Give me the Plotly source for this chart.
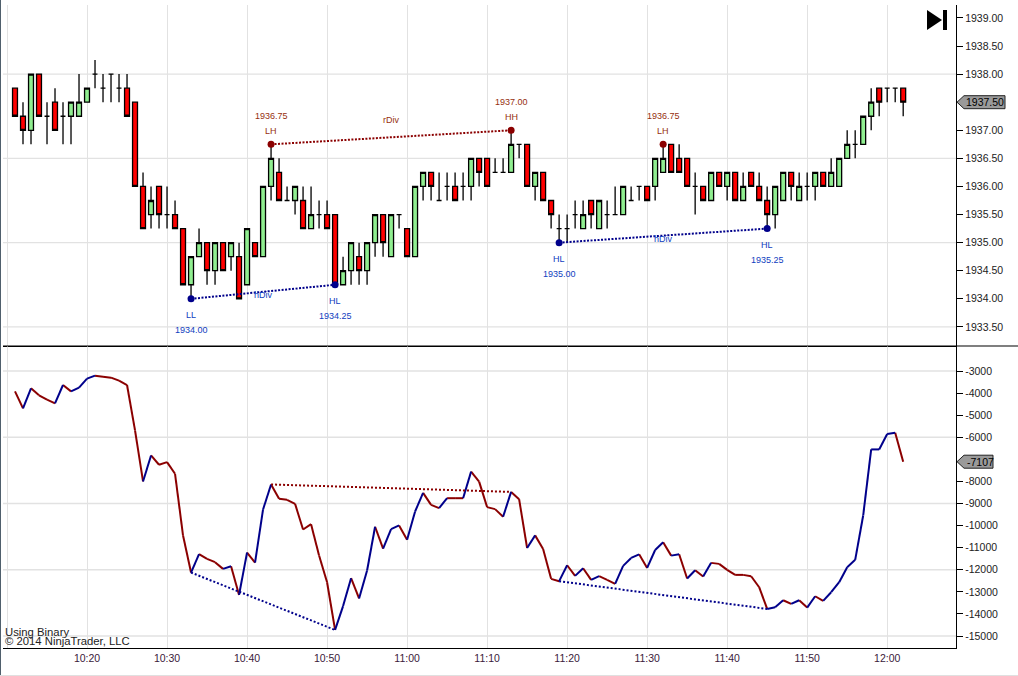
import plotly.graph_objects as go
from plotly.subplots import make_subplots
import pandas as pd

TIMES = pd.date_range("2014-06-10 10:11", "2014-06-10 12:02", freq="1min")

# (open, high, low, close) read bar by bar, price minus 1900
BARS = [
 (37.75,37.75,37.25,37.25),(37.25,37.5,36.75,37.0),(37.0,38.0,36.75,38.0),(38.0,38.0,37.25,37.25),
 (37.25,37.5,36.75,37.25),(37.5,37.75,37.0,37.0),(37.25,37.5,36.75,37.25),(37.25,37.5,36.75,37.5),
 (37.25,38.0,37.25,37.5),(37.5,37.75,37.5,37.75),(38.0,38.25,37.75,38.0),(37.75,38.0,37.5,37.75),
 (38.0,38.0,37.5,38.0),(37.75,38.0,37.5,37.75),(37.75,38.0,37.25,37.25),(37.5,37.5,36.0,36.0),
 (36.0,36.25,35.25,35.25),(35.5,36.0,35.25,35.75),(36.0,36.0,35.25,35.5),(35.5,36.0,35.25,35.5),
 (35.5,35.75,35.25,35.25),(35.25,35.25,34.25,34.25),(34.25,34.75,34.0,34.75),(34.75,35.25,34.75,35.0),
 (35.0,35.0,34.25,34.5),(34.5,35.0,34.25,35.0),(35.0,35.0,34.5,34.5),(34.75,35.0,34.5,35.0),
 (34.75,35.0,34.0,34.0),(34.25,35.25,34.25,35.25),(35.0,35.0,34.75,34.75),(34.75,36.0,34.75,36.0),
 (36.0,36.75,35.75,36.5),(36.25,36.5,35.75,35.75),(35.75,36.0,35.75,35.75),(35.75,36.0,35.5,36.0),
 (35.75,36.0,35.25,35.25),(35.25,36.0,35.25,35.5),(35.5,35.75,35.25,35.5),(35.5,35.75,35.25,35.25),
 (35.5,35.5,34.25,34.25),(34.25,34.75,34.25,34.5),(34.5,35.0,34.25,35.0),(34.75,35.0,34.25,34.5),
 (34.5,35.0,34.25,35.0),(35.0,35.5,34.75,35.5),(35.5,35.5,34.75,35.0),(34.75,35.5,34.75,35.5),
 (35.5,35.5,35.25,35.5),(35.25,35.25,34.75,34.75),(34.75,36.0,34.75,36.0),(36.0,36.25,35.75,36.25),
 (36.25,36.25,35.75,36.0),(35.75,36.25,35.75,35.75),(36.0,36.25,35.75,36.0),(36.0,36.25,35.75,35.75),
 (36.0,36.25,35.75,36.0),(36.0,36.5,35.75,36.5),(36.5,36.5,36.0,36.25),(36.5,36.5,36.0,36.0),
 (36.25,36.5,36.25,36.25),(36.25,36.5,36.25,36.25),(36.25,37.0,36.25,36.75),(36.75,36.75,36.5,36.75),
 (36.75,36.75,36.0,36.0),(36.0,36.25,35.75,36.25),(36.25,36.25,35.75,35.75),(35.75,35.75,35.25,35.5),
 (35.25,35.5,35.0,35.25),(35.25,35.5,35.0,35.25),(35.5,35.75,35.25,35.5),(35.25,35.75,35.25,35.5),
 (35.75,35.75,35.25,35.5),(35.25,35.75,35.25,35.75),(35.5,35.75,35.25,35.5),(35.5,36.0,35.5,35.5),
 (35.5,36.0,35.5,36.0),(35.75,36.0,35.75,35.75),(36.0,36.0,35.75,36.0),(36.0,36.0,35.75,35.75),
 (36.0,36.5,35.75,36.5),(36.25,36.75,36.25,36.5),(36.75,36.75,36.25,36.25),(36.5,36.75,36.25,36.25),
 (36.5,36.5,36.0,36.0),(36.0,36.25,35.5,36.0),(36.0,36.0,35.75,35.75),(35.75,36.25,35.75,36.25),
 (36.25,36.25,36.0,36.0),(36.0,36.25,35.75,36.25),(36.25,36.25,35.75,35.75),(35.75,36.25,35.75,36.0),
 (36.25,36.25,36.0,36.0),(36.0,36.25,35.75,35.75),(35.75,36.0,35.25,35.5),(35.5,36.0,35.25,36.0),
 (35.75,36.25,35.75,36.25),(36.25,36.25,35.75,36.0),(35.75,36.25,35.75,36.0),(36.0,36.25,35.75,36.0),
 (36.0,36.25,35.75,36.25),(36.25,36.25,36.0,36.0),(36.0,36.5,36.0,36.25),(36.0,36.5,36.0,36.5),
 (36.5,37.0,36.5,36.75),(36.75,37.0,36.5,36.75),(36.75,37.25,36.75,37.25),(37.25,37.75,37.0,37.5),
 (37.75,37.75,37.25,37.5),(37.75,37.75,37.5,37.75),(37.75,37.75,37.5,37.75),(37.75,37.75,37.25,37.5),
]
BASE = 1900

INDICATOR = [
 -3922,-4692,-3786,-4103,-4300,-4466,-3635,-3922,-3755,-3348,-3212,-3257,-3302,-3438,-3635,-5690,
 -8000,-6823,-7246,-7125,-7654,-10450,-12127,-11295,-11507,-11658,-11960,-11840,-13139,-11220,-11673,-9270,
 -8137,-8787,-8832,-9014,-10177,-9936,-11356,-12565,-14725,-13644,-12382,-13299,-12036,-10052,-11044,-10157,
 -9992,-10638,-9361,-8519,-9060,-9210,-8760,-8760,-8760,-7557,-8008,-9165,-9255,-9601,-8474,-8805,
 -11014,-10443,-11059,-12412,-12517,-11796,-12277,-11931,-12457,-12292,-12457,-12637,-11826,-11465,-11300,-11916,
 -11104,-10758,-11360,-11300,-12398,-12021,-12308,-11688,-11734,-12006,-12232,-12232,-12293,-12791,-13774,-13698,
 -13380,-13547,-13380,-13713,-13200,-13411,-13018,-12565,-11885,-11552,-9543,-6551,-6551,-5856,-5795,-7107,
]
RISES_SHOWN_RED = ["10:30", "10:48"]
FLAT_SHOWN_BLUE = ["11:59"]

PRICE_TICKS = [1933.5,1934.0,1934.5,1935.0,1935.5,1936.0,1936.5,1937.0,1938.0,1938.5,1939.0]
PRICE_GRID = [1933.5,1935.0,1936.5,1938.0]
IND_TICKS = [-3000,-4000,-5000,-6000,-8000,-9000,-10000,-11000,-12000,-13000,-14000,-15000]
IND_GRID = [-3000,-6000,-9000,-12000,-15000]

SWINGS = [("10:33",1934.00,"LL","low"),("10:43",1936.75,"LH","high"),("10:51",1934.25,"HL","low"),
          ("11:13",1937.00,"HH","high"),("11:19",1935.00,"HL","low"),("11:32",1936.75,"LH","high"),
          ("11:45",1935.25,"HL","low")]
DIV_PRICE = [("10:43",1936.75,"11:13",1937.00,"high"),("10:33",1934.00,"10:51",1934.25,"low"),
             ("11:19",1935.00,"11:45",1935.25,"low")]
DIV_LABELS = [("10:58",1937.18,"rDiv","high"),("10:42",1934.06,"hDiv","low"),("11:32",1935.07,"hDiv","low")]

RED, BLUE = "#8b0000", "#00008b"
TXT_RED, TXT_BLUE = "#96300f", "#1040c0"
LAST_PRICE, LAST_IND = "1937.50", "-7107"
FONT = "Liberation Sans"
GRIDC = "#e2e2e2"


def T(hhmm):
    return pd.Timestamp(f"2014-06-10 {hhmm}")


def ind_at(hhmm):
    return INDICATOR[list(TIMES).index(T(hhmm))]


fig = make_subplots(rows=2, cols=1, shared_xaxes=True, vertical_spacing=0)

fig.add_trace(go.Candlestick(
    x=TIMES,
    open=[BASE + b[0] for b in BARS], high=[BASE + b[1] for b in BARS],
    low=[BASE + b[2] for b in BARS], close=[BASE + b[3] for b in BARS],
    increasing=dict(fillcolor="#90ee90", line=dict(color="black", width=1.3)),
    decreasing=dict(fillcolor="#ff0000", line=dict(color="black", width=1.3)),
    whiskerwidth=0, showlegend=False, hoverinfo="skip"), row=1, col=1)

# indicator: each step is coloured by its direction
red_x, red_y, blue_x, blue_y = [], [], [], []
for i in range(1, len(INDICATOR)):
    label = TIMES[i].strftime("%H:%M")
    d = INDICATOR[i] - INDICATOR[i - 1]
    up = (d > 0 and label not in RISES_SHOWN_RED) or label in FLAT_SHOWN_BLUE
    xs, ys = (blue_x, blue_y) if up else (red_x, red_y)
    xs += [TIMES[i - 1], TIMES[i], None]
    ys += [INDICATOR[i - 1], INDICATOR[i], None]
for xs, ys, c in ((red_x, red_y, RED), (blue_x, blue_y, BLUE)):
    fig.add_trace(go.Scatter(x=xs, y=ys, mode="lines", line=dict(color=c, width=2),
                             showlegend=False, hoverinfo="skip"), row=2, col=1)

# divergence lines
for t0, p0, t1, p1, kind in DIV_PRICE:
    c = RED if kind == "high" else BLUE
    fig.add_trace(go.Scatter(x=[T(t0), T(t1)], y=[p0, p1], mode="lines",
                             line=dict(color=c, width=2, dash="2px,1.5px"),
                             showlegend=False, hoverinfo="skip"), row=1, col=1)
    fig.add_trace(go.Scatter(x=[T(t0), T(t1)], y=[ind_at(t0), ind_at(t1)], mode="lines",
                             line=dict(color=c, width=2, dash="2px,2px"),
                             showlegend=False, hoverinfo="skip"), row=2, col=1)

for t, p, name, kind in SWINGS:
    c = RED if kind == "high" else BLUE
    fig.add_trace(go.Scatter(x=[T(t)], y=[p], mode="markers", marker=dict(color=c, size=7),
                             showlegend=False, hoverinfo="skip"), row=1, col=1)
    tc = TXT_RED if kind == "high" else TXT_BLUE
    s1, s2 = (13, 28) if kind == "high" else (-16, -31)
    fig.add_annotation(x=T(t), y=p, xref="x", yref="y", text=name, showarrow=False, yshift=s1,
                       font=dict(family=FONT, size=9, color=tc))
    fig.add_annotation(x=T(t), y=p, xref="x", yref="y", text=f"{p:.2f}", showarrow=False, yshift=s2,
                       font=dict(family=FONT, size=9, color=tc))

for t, p, name, kind in DIV_LABELS:
    c = TXT_RED if kind == "high" else TXT_BLUE
    fig.add_annotation(x=T(t), y=p, xref="x", yref="y", text=name, showarrow=False,
                       font=dict(family=FONT, size=9, color=c))

shapes = []
for v in PRICE_GRID:
    shapes.append(dict(type="line", xref="x domain", yref="y", x0=0, x1=1, y0=v, y1=v,
                       line=dict(color=GRIDC, width=1.3), layer="below"))
for v in IND_GRID:
    shapes.append(dict(type="line", xref="x2 domain", yref="y2", x0=0, x1=1, y0=v, y1=v,
                       line=dict(color=GRIDC, width=1.3), layer="below"))


def tag(yref, yval, right):
    return dict(type="path", xref="paper", yref=yref, xsizemode="pixel", ysizemode="pixel",
                xanchor=1, yanchor=yval, path=f"M 1 0 L 8 6.5 L {right} 6.5 L {right} -6.5 L 8 -6.5 Z",
                fillcolor="#9a9a9a", line=dict(color="#222222", width=1), layer="above")


shapes.append(tag("y", float(LAST_PRICE), 49))
shapes.append(tag("y2", float(LAST_IND), 37))
# jump-to-end button
for p in ("M -15 10 L -15 -10 L 0 0 Z", "M 1 10 L 1 -10 L 5 -10 L 5 10 Z"):
    shapes.append(dict(type="path", xref="paper", yref="paper", xsizemode="pixel", ysizemode="pixel",
                       xanchor=0.9853, yanchor=0.9767, path=p, fillcolor="black", line=dict(width=0)))
# panel separator
shapes.append(dict(type="line", xref="paper", yref="y2 domain", xsizemode="pixel", xanchor=1,
                   x0=-953, x1=62, y0=1, y1=1, line=dict(color="black", width=1.2)))
# window edges
shapes.append(dict(type="path", xref="paper", yref="paper", xsizemode="pixel", ysizemode="pixel",
                   xanchor=0, yanchor=0, path="M -3 648 L -2 648 L -2 -28 L -3 -28 Z",
                   fillcolor="#4f5f6c", line=dict(width=0)))
shapes.append(dict(type="path", xref="paper", yref="paper", xsizemode="pixel", ysizemode="pixel",
                   xanchor=0, yanchor=0, path="M -3 -27 L 1015 -27 L 1015 -28 L -3 -28 Z",
                   fillcolor="#e0e0e0", line=dict(width=0)))
fig.update_layout(shapes=shapes)

fig.add_annotation(xref="paper", yref="y", x=1, y=float(LAST_PRICE), xshift=29, xanchor="center", text=LAST_PRICE,
                   showarrow=False, font=dict(family=FONT, size=10.5, color="black"))
fig.add_annotation(xref="paper", yref="y2", x=1, y=float(LAST_IND), xshift=24, xanchor="center", text=LAST_IND,
                   showarrow=False, font=dict(family=FONT, size=10.5, color="black"))
fig.add_annotation(xref="paper", yref="paper", x=0, y=0.0249, xanchor="left", yanchor="middle",
                   text="Using Binary", showarrow=False, font=dict(family=FONT, size=11.3, color="#222222"))
fig.add_annotation(xref="paper", yref="paper", x=0, y=0.0109, xanchor="left", yanchor="middle",
                   text="© 2014 NinjaTrader, LLC", showarrow=False, font=dict(family=FONT, size=11.3, color="#222222"))

x_range = [pd.Timestamp("2014-06-10 10:09:30"), pd.Timestamp("2014-06-10 12:08:36")]
fig.update_xaxes(range=x_range, dtick=600000, tick0="2014-06-10 10:00", tickformat="%H:%M", showgrid=True,
                 gridcolor=GRIDC, gridwidth=1.3, zeroline=False, showline=True, linecolor="black", linewidth=1.2,
                 rangeslider_visible=False, tickfont=dict(family=FONT, size=10.5, color="#3a1a3a"),
                 ticks="outside", ticklen=0)
fig.update_xaxes(showticklabels=False, row=1, col=1)
fig.update_xaxes(showticklabels=True, row=2, col=1)
fig.update_yaxes(side="right", showgrid=False, zeroline=False, showline=True, linecolor="black", linewidth=1.2,
                 ticks="outside", ticklen=6, tickcolor="black", tickwidth=1,
                 tickfont=dict(family=FONT, size=10.5, color="#222222"))
fig.update_yaxes(range=[1933.16, 1939.23], tickvals=PRICE_TICKS, ticktext=[f"{v:.2f}" for v in PRICE_TICKS], row=1, col=1)
fig.update_yaxes(range=[-15543, -1868], tickvals=IND_TICKS, ticktext=[str(v) for v in IND_TICKS], row=2, col=1)
fig.update_layout(width=1018, height=676, margin=dict(l=3, r=62, t=5, b=28), plot_bgcolor="white",
                  paper_bgcolor="white", showlegend=False, boxgap=0.12, hovermode=False)
fig.update_layout(yaxis=dict(domain=[1 - 341 / 643, 1]), yaxis2=dict(domain=[0, 1 - 341 / 643]))

fig.write_html("out.html", config={"displayModeBar": False},
               post_script="document.body.style.margin='0';document.body.style.overflow='hidden';")
